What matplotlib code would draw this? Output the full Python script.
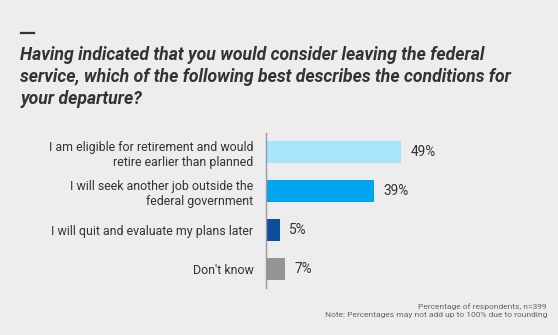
import matplotlib
matplotlib.use("Agg")
import matplotlib.pyplot as plt
from matplotlib.lines import Line2D

categories = [
    "I am eligible for retirement and would\nretire earlier than planned",
    "I will seek another job outside the\nfederal government",
    "I will quit and evaluate my plans later",
    "Don't know",
]
values = [49, 39, 5, 7]
value_labels = ["49%", "39%", "5%", "7%"]
colors = ["#a8e4fc", "#00a5ef", "#0b4f9c", "#959595"]

title = ("Having indicated that you would consider leaving the federal\n"
         "service, which of the following best describes the conditions for\n"
         "your departure?")
footer = ("Percentage of respondents, n=399\n"
          "Note: Percentages may not add up to 100% due to rounding")

BG = "#ededed"
W, H = 558, 335
fig = plt.figure(figsize=(W / 100, H / 100), dpi=100, facecolor=BG)

ax = fig.add_axes([266 / W, 1 - 288 / H, 276 / W, 155 / H])
ax.set_facecolor(BG)
ypos = list(range(len(categories)))
ax.barh(ypos, values, height=0.56, color=colors)
ax.set_xlim(0, 100)
ax.set_ylim(3.49, -0.49)
for s in ["top", "right", "bottom"]:
    ax.spines[s].set_visible(False)
ax.spines["left"].set_color("#9a9a9a")
ax.spines["left"].set_linewidth(1.0)
ax.set_xticks([])
ax.set_yticks(ypos)
ax.set_yticklabels(categories, fontfamily="Roboto", fontsize=8.9, color="#333333",
                   linespacing=1.25)
ax.tick_params(axis="y", length=0, pad=9)
for y, v, lab in zip(ypos, values, value_labels):
    ax.text(v + 3.5, y, lab, va="center", ha="left", fontfamily="Roboto",
            fontsize=9.8, color="#333333")

fig.add_artist(Line2D([21 / W, 34 / W], [1 - 33 / H, 1 - 33 / H], color="#333333",
                      linewidth=1.6, transform=fig.transFigure))
fig.text(20 / W, 1 - 46.5 / H, title, fontfamily="Roboto", fontweight="bold",
         fontstyle="italic", fontsize=12.7, color="#333333", va="top", ha="left",
         linespacing=1.27)
fig.text(547 / W, 1 - 303.5 / H, footer, fontfamily="Roboto", fontsize=6.0,
         color="#666666", va="top", ha="right", multialignment="right",
         linespacing=1.35)

fig.savefig("out.png", dpi=100, facecolor=BG)
